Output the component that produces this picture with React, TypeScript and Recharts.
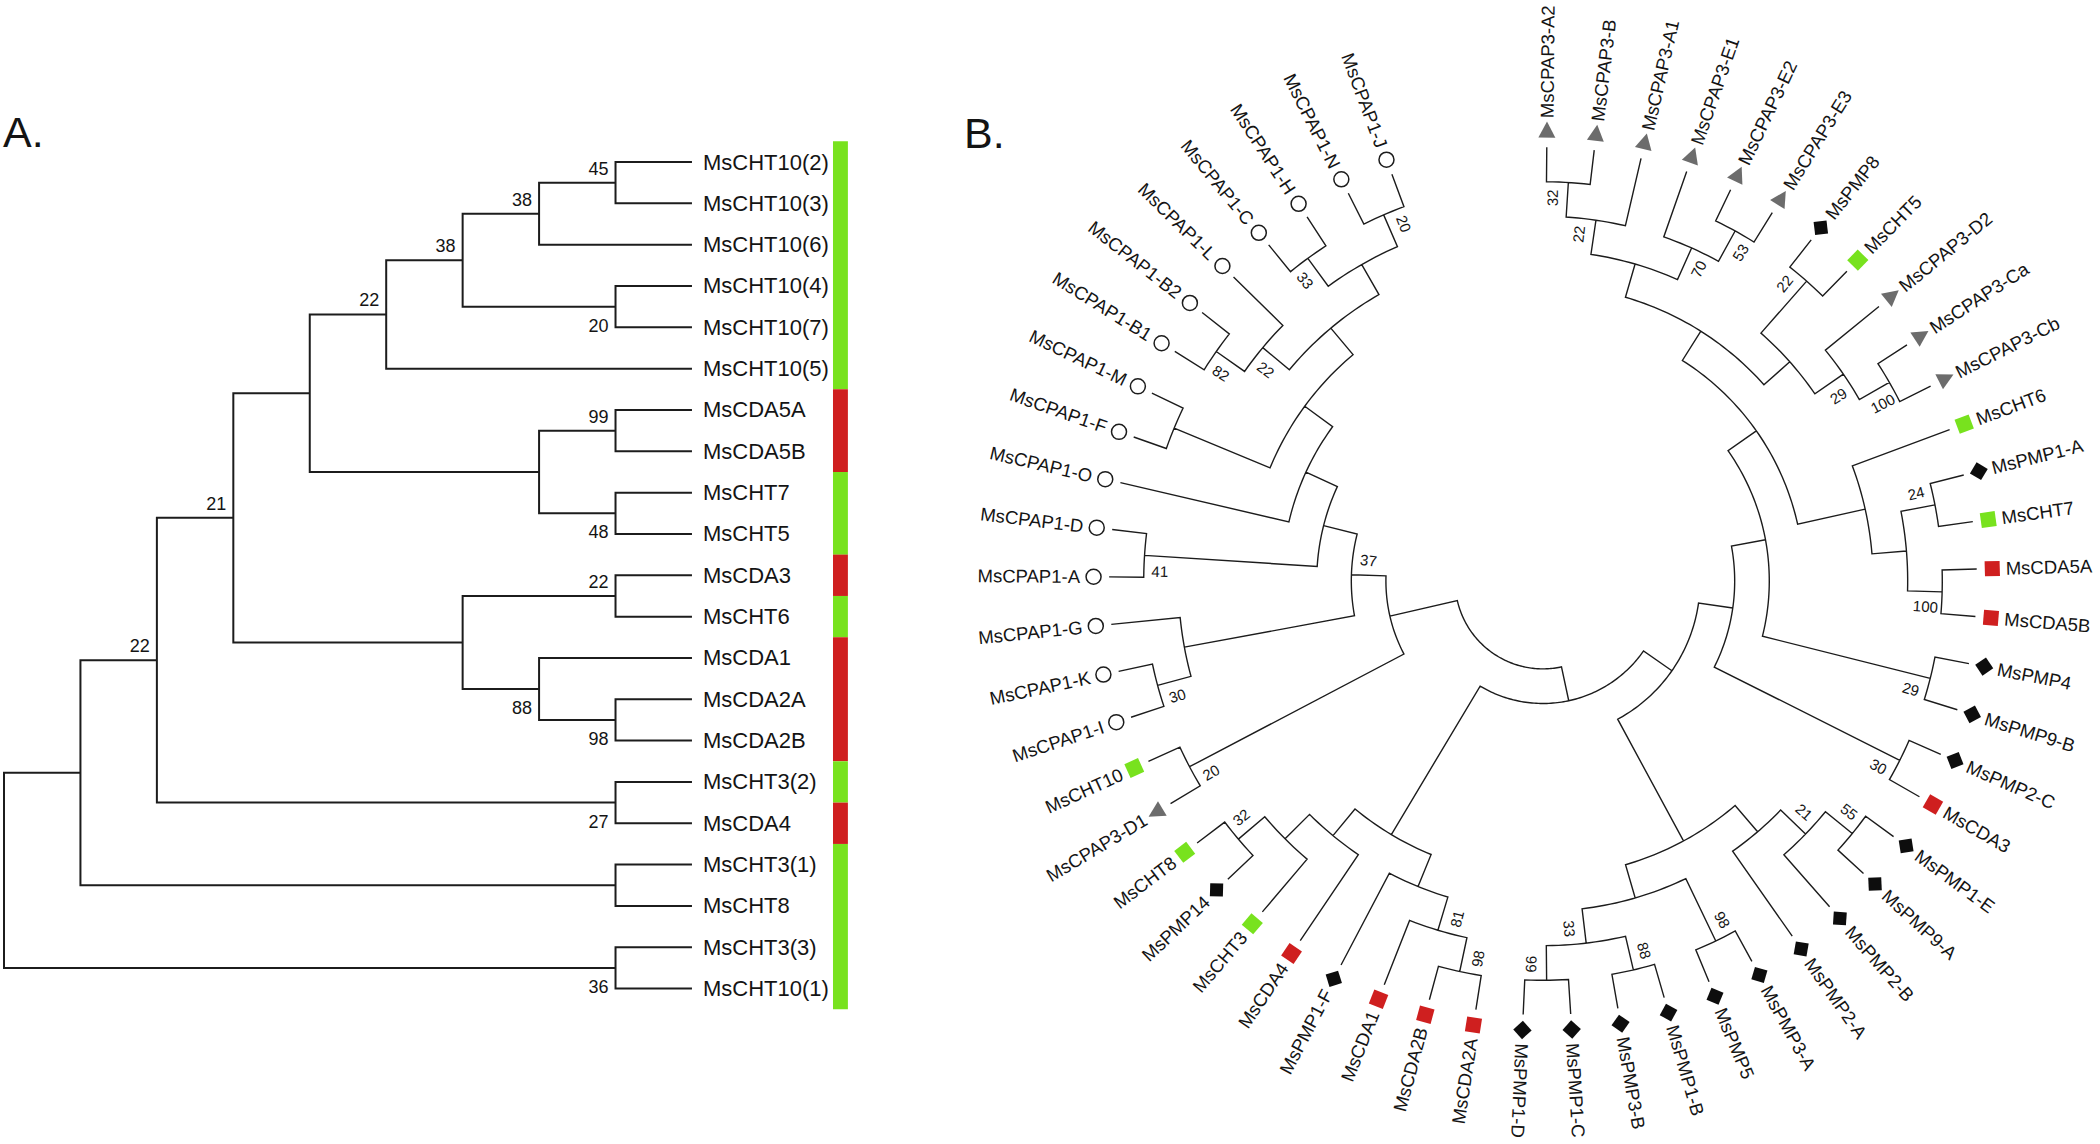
import React from 'react'
import { ComposedChart, XAxis, YAxis, Line, Scatter, ReferenceArea } from 'recharts'

const FONT = "'Liberation Sans', Arial, Helvetica, sans-serif"
const INK = '#1c1c1c'
const TEXT = '#141414'
const GREEN = '#78e21e'
const RED = '#cf1f1f'
const GRAY = '#6c6c6c'

type Clade = { id: string; kids: [string, string]; support?: number }
type Pt = { x: number; y: number | null }

// ---------- Panel A: rectangular tree ----------
const leavesA = [
  'MsCHT10(2)', 'MsCHT10(3)', 'MsCHT10(6)', 'MsCHT10(4)', 'MsCHT10(7)', 'MsCHT10(5)',
  'MsCDA5A', 'MsCDA5B', 'MsCHT7', 'MsCHT5', 'MsCDA3', 'MsCHT6', 'MsCDA1', 'MsCDA2A',
  'MsCDA2B', 'MsCHT3(2)', 'MsCDA4', 'MsCHT3(1)', 'MsCHT8', 'MsCHT3(3)', 'MsCHT10(1)',
]

const cladesA: Clade[] = [
  { id: 'a45', kids: ['MsCHT10(2)', 'MsCHT10(3)'], support: 45 },
  { id: 'a38a', kids: ['a45', 'MsCHT10(6)'], support: 38 },
  { id: 'a20', kids: ['MsCHT10(4)', 'MsCHT10(7)'], support: 20 },
  { id: 'a38b', kids: ['a38a', 'a20'], support: 38 },
  { id: 'a22a', kids: ['a38b', 'MsCHT10(5)'], support: 22 },
  { id: 'a99', kids: ['MsCDA5A', 'MsCDA5B'], support: 99 },
  { id: 'a48', kids: ['MsCHT7', 'MsCHT5'], support: 48 },
  { id: 'a7', kids: ['a99', 'a48'] },
  { id: 'a5', kids: ['a22a', 'a7'] },
  { id: 'a22b', kids: ['MsCDA3', 'MsCHT6'], support: 22 },
  { id: 'a98', kids: ['MsCDA2A', 'MsCDA2B'], support: 98 },
  { id: 'a88', kids: ['MsCDA1', 'a98'], support: 88 },
  { id: 'a6', kids: ['a22b', 'a88'] },
  { id: 'a21', kids: ['a5', 'a6'], support: 21 },
  { id: 'a27', kids: ['MsCHT3(2)', 'MsCDA4'], support: 27 },
  { id: 'a22c', kids: ['a21', 'a27'], support: 22 },
  { id: 'a8', kids: ['MsCHT3(1)', 'MsCHT8'] },
  { id: 'a1', kids: ['a22c', 'a8'] },
  { id: 'a36', kids: ['MsCHT3(3)', 'MsCHT10(1)'], support: 36 },
  { id: 'aRoot', kids: ['a1', 'a36'] },
]
// support values printed under the branch instead of above it
const belowA = ['a20', 'a48', 'a98', 'a88', 'a27', 'a36']

// ---------- Panel B: circular tree ----------
const leavesB = [
  'MsCPAP3-A2', 'MsCPAP3-B', 'MsCPAP3-A1', 'MsCPAP3-E1', 'MsCPAP3-E2', 'MsCPAP3-E3',
  'MsPMP8', 'MsCHT5', 'MsCPAP3-D2', 'MsCPAP3-Ca', 'MsCPAP3-Cb', 'MsCHT6',
  'MsPMP1-A', 'MsCHT7', 'MsCDA5A', 'MsCDA5B', 'MsPMP4', 'MsPMP9-B', 'MsPMP2-C', 'MsCDA3',
  'MsPMP1-E', 'MsPMP9-A', 'MsPMP2-B', 'MsPMP2-A', 'MsPMP3-A', 'MsPMP5', 'MsPMP1-B', 'MsPMP3-B',
  'MsPMP1-C', 'MsPMP1-D', 'MsCDA2A', 'MsCDA2B', 'MsCDA1', 'MsPMP1-F', 'MsCDA4', 'MsCHT3',
  'MsPMP14', 'MsCHT8', 'MsCPAP3-D1', 'MsCHT10', 'MsCPAP1-I', 'MsCPAP1-K', 'MsCPAP1-G',
  'MsCPAP1-A', 'MsCPAP1-D', 'MsCPAP1-O', 'MsCPAP1-F', 'MsCPAP1-M', 'MsCPAP1-B1', 'MsCPAP1-B2',
  'MsCPAP1-L', 'MsCPAP1-C', 'MsCPAP1-H', 'MsCPAP1-N', 'MsCPAP1-J',
]

const cladesB: Clade[] = [
  { id: 'b32', kids: ['MsCPAP3-A2', 'MsCPAP3-B'], support: 32 },
  { id: 'b22a', kids: ['b32', 'MsCPAP3-A1'], support: 22 },
  { id: 'b53', kids: ['MsCPAP3-E2', 'MsCPAP3-E3'], support: 53 },
  { id: 'b70', kids: ['MsCPAP3-E1', 'b53'], support: 70 },
  { id: 'bAE', kids: ['b22a', 'b70'] },
  { id: 'b22p', kids: ['MsPMP8', 'MsCHT5'], support: 22 },
  { id: 'b100c', kids: ['MsCPAP3-Ca', 'MsCPAP3-Cb'], support: 100 },
  { id: 'b29c', kids: ['MsCPAP3-D2', 'b100c'], support: 29 },
  { id: 'bP', kids: ['b22p', 'b29c'] },
  { id: 'bQ', kids: ['bAE', 'bP'] },
  { id: 'b24', kids: ['MsPMP1-A', 'MsCHT7'], support: 24 },
  { id: 'b100d', kids: ['MsCDA5A', 'MsCDA5B'], support: 100 },
  { id: 'bT', kids: ['b24', 'b100d'] },
  { id: 'bS', kids: ['MsCHT6', 'bT'] },
  { id: 'bR', kids: ['bQ', 'bS'] },
  { id: 'b29p', kids: ['MsPMP4', 'MsPMP9-B'], support: 29 },
  { id: 'bU', kids: ['bR', 'b29p'] },
  { id: 'b30p', kids: ['MsPMP2-C', 'MsCDA3'], support: 30 },
  { id: 'bX', kids: ['bU', 'b30p'] },
  { id: 'b55', kids: ['MsPMP1-E', 'MsPMP9-A'], support: 55 },
  { id: 'b21', kids: ['b55', 'MsPMP2-B'], support: 21 },
  { id: 'bA4', kids: ['b21', 'MsPMP2-A'] },
  { id: 'b98p', kids: ['MsPMP3-A', 'MsPMP5'], support: 98 },
  { id: 'b88', kids: ['MsPMP1-B', 'MsPMP3-B'], support: 88 },
  { id: 'b99', kids: ['MsPMP1-C', 'MsPMP1-D'], support: 99 },
  { id: 'b33', kids: ['b88', 'b99'], support: 33 },
  { id: 'bB6', kids: ['b98p', 'b33'] },
  { id: 'bPMP', kids: ['bA4', 'bB6'] },
  { id: 'bY', kids: ['bX', 'bPMP'] },
  { id: 'b98c', kids: ['MsCDA2A', 'MsCDA2B'], support: 98 },
  { id: 'b81', kids: ['b98c', 'MsCDA1'], support: 81 },
  { id: 'bF', kids: ['b81', 'MsPMP1-F'] },
  { id: 'b32c', kids: ['MsPMP14', 'MsCHT8'], support: 32 },
  { id: 'bC3', kids: ['MsCHT3', 'b32c'] },
  { id: 'bK', kids: ['MsCDA4', 'bC3'] },
  { id: 'bN', kids: ['bF', 'bK'] },
  { id: 'bB', kids: ['bY', 'bN'] },
  { id: 'b20', kids: ['MsCPAP3-D1', 'MsCHT10'], support: 20 },
  { id: 'b30k', kids: ['MsCPAP1-I', 'MsCPAP1-K'], support: 30 },
  { id: 'bG', kids: ['b30k', 'MsCPAP1-G'] },
  { id: 'b41', kids: ['MsCPAP1-A', 'MsCPAP1-D'], support: 41 },
  { id: 'bMF', kids: ['MsCPAP1-F', 'MsCPAP1-M'] },
  { id: 'b82', kids: ['MsCPAP1-B1', 'MsCPAP1-B2'], support: 82 },
  { id: 'b22L', kids: ['b82', 'MsCPAP1-L'], support: 22 },
  { id: 'b33c', kids: ['MsCPAP1-C', 'MsCPAP1-H'], support: 33 },
  { id: 'b20n', kids: ['MsCPAP1-N', 'MsCPAP1-J'], support: 20 },
  { id: 'bCJ', kids: ['b33c', 'b20n'] },
  { id: 'bBJ', kids: ['b22L', 'bCJ'] },
  { id: 'bFJ', kids: ['bMF', 'bBJ'] },
  { id: 'bO', kids: ['MsCPAP1-O', 'bFJ'] },
  { id: 'bAJ', kids: ['b41', 'bO'] },
  { id: 'b37', kids: ['bG', 'bAJ'], support: 37 },
  { id: 'bW', kids: ['b20', 'b37'] },
  { id: 'bRoot', kids: ['bB', 'bW'] },
]
// support values printed on the clockwise side of the stem
const afterB = ['b53', 'b70', 'b100c', 'b29c', 'b100d', 'b29p', 'b30p', 'b99', 'b33', 'b32c', 'b20n', 'b37']

// ---------- layout ----------
const H = 1144
const A_W = 860
const A_X0 = 4
const A_UX = 76.44
const A_Y0 = 162
const A_UY = 41.33
const A_DEPTH = 9
const BAR_X0 = 10.845
const BAR_X1 = 11.04

const B_LEFT = 960
const B_W = 1140
const B_CX = 583
const B_CY = 581
const B_U = 34.6
const RHO_TIP = 12.54
const THETA0 = -89.5
const THETA_STEP = 6.28

function buildTree(leaves: string[], clades: Clade[], leafPos: (i: number) => number) {
  const info = new Map<string, { pos: number; h: number }>()
  leaves.forEach((n, i) => info.set(n, { pos: leafPos(i), h: 0 }))
  clades.forEach((c) => {
    const a = info.get(c.kids[0])!
    const b = info.get(c.kids[1])!
    info.set(c.id, { pos: (a.pos + b.pos) / 2, h: Math.max(a.h, b.h) + 1 })
  })
  return info
}

const rad = (d: number) => (d * Math.PI) / 180
const polar = (rho: number, deg: number) => ({ x: rho * Math.cos(rad(deg)), y: rho * Math.sin(rad(deg)) })

// panel A geometry in (depth, leaf row) units
const infoA = buildTree(leavesA, cladesA, (i) => i)
const segA: Pt[] = []
cladesA.forEach((c) => {
  const n = infoA.get(c.id)!
  const xc = A_DEPTH - n.h
  const [k0, k1] = c.kids.map((k) => infoA.get(k)!)
  segA.push(
    { x: A_DEPTH - k0.h, y: k0.pos },
    { x: xc, y: k0.pos },
    { x: xc, y: k1.pos },
    { x: A_DEPTH - k1.h, y: k1.pos },
    { x: A_DEPTH - k1.h, y: null },
  )
})
const leafPtsA = leavesA.map((name, i) => ({ x: A_DEPTH, y: i, name }))
const supPtsA = cladesA
  .filter((c) => c.support != null)
  .map((c) => {
    const n = infoA.get(c.id)!
    return { x: A_DEPTH - n.h, y: n.pos, label: c.support, below: belowA.includes(c.id) }
  })
const barRuns: { from: number; to: number; color: string }[] = []
leavesA.forEach((name, i) => {
  const color = name.includes('CDA') ? RED : GREEN
  const last = barRuns[barRuns.length - 1]
  if (last && last.color === color) last.to = i
  else barRuns.push({ from: i, to: i, color })
})

// panel B geometry in polar (level, degrees) converted to cartesian level units
const infoB = buildTree(leavesB, cladesB, (i) => THETA0 + THETA_STEP * i)
const segB: Pt[] = []
cladesB.forEach((c) => {
  const n = infoB.get(c.id)!
  const rho = RHO_TIP - n.h
  const [k0, k1] = c.kids.map((k) => infoB.get(k)!)
  const steps = Math.max(2, Math.ceil(k1.pos - k0.pos))
  const pts: Pt[] = [polar(RHO_TIP - k0.h, k0.pos)]
  for (let s = 0; s <= steps; s++) pts.push(polar(rho, k0.pos + ((k1.pos - k0.pos) * s) / steps))
  pts.push(polar(RHO_TIP - k1.h, k1.pos))
  segB.push(...pts, { x: pts[pts.length - 1].x, y: null })
})
const kindOf = (name: string) =>
  name.startsWith('MsCPAP1') ? 'cpap1' : name.startsWith('MsCPAP3') ? 'cpap3' : name.startsWith('MsCHT') ? 'cht' : name.startsWith('MsCDA') ? 'cda' : 'pmp'
const leafMarkB = leavesB.map((name, i) => {
  const a = THETA0 + THETA_STEP * i
  return { ...polar(RHO_TIP + 0.45, a), angle: a, kind: kindOf(name) }
})
const leafTextB = leavesB.map((name, i) => {
  const a = THETA0 + THETA_STEP * i
  return { ...polar(RHO_TIP + 0.84, a), angle: a, name }
})
const supPtsB = cladesB
  .filter((c) => c.support != null)
  .map((c) => {
    const n = infoB.get(c.id)!
    const rho = RHO_TIP - n.h - 16 / B_U
    const side = afterB.includes(c.id) ? 1 : -1
    const a = n.pos + (side * (15 / B_U / rho) * 180) / Math.PI
    return { ...polar(rho, a), angle: a, label: c.support }
  })

const flipped = (a: number) => a > 96 && a < 270
const textRot = (a: number) => (flipped(a) ? a - 180 : a)

// ---------- shapes ----------
const LeafLabelA = (p: any) => (
  <text x={p.cx + 11} y={p.cy} dominantBaseline="central" fontSize={22} fontFamily={FONT} fill={TEXT}>
    {p.payload.name}
  </text>
)

const SupportA = (p: any) => (
  <text
    x={p.cx - 7}
    y={p.cy + (p.payload.below ? 19 : -14)}
    textAnchor="end"
    dominantBaseline="central"
    fontSize={18}
    fontFamily={FONT}
    fill={TEXT}
  >
    {p.payload.label}
  </text>
)

const MarkerB = (p: any) => {
  const { cx, cy } = p
  const { angle, kind } = p.payload
  if (kind === 'cpap1') return <circle cx={cx} cy={cy} r={7.5} fill="#fff" stroke={INK} strokeWidth={1.5} />
  if (kind === 'cpap3')
    return <polygon points="10,0 -6,-8.5 -6,8.5" transform={`translate(${cx},${cy}) rotate(${angle})`} fill={GRAY} />
  if (kind === 'pmp')
    return <rect x={-6.5} y={-6.5} width={13} height={13} transform={`translate(${cx},${cy}) rotate(${angle + 45})`} fill="#0d0d0d" />
  return (
    <rect
      x={-7.5}
      y={-7.5}
      width={15}
      height={15}
      transform={`translate(${cx},${cy}) rotate(${angle})`}
      fill={kind === 'cht' ? GREEN : RED}
    />
  )
}

const LeafLabelB = (p: any) => {
  const { cx, cy } = p
  const a = p.payload.angle
  return (
    <text
      x={cx}
      y={cy}
      transform={`rotate(${textRot(a)} ${cx} ${cy})`}
      textAnchor={flipped(a) ? 'end' : 'start'}
      dominantBaseline="central"
      fontSize={18.5}
      fontFamily={FONT}
      fill={TEXT}
    >
      {p.payload.name}
    </text>
  )
}

const SupportB = (p: any) => {
  const { cx, cy } = p
  const a = p.payload.angle
  return (
    <text
      x={cx}
      y={cy}
      transform={`rotate(${textRot(a)} ${cx} ${cy})`}
      textAnchor="middle"
      dominantBaseline="central"
      fontSize={15}
      fontFamily={FONT}
      fill={TEXT}
    >
      {p.payload.label}
    </text>
  )
}

const noMargin = { top: 0, right: 0, bottom: 0, left: 0 }

export default function App() {
  return (
    <div
      style={{
        position: 'absolute',
        left: 0,
        top: 0,
        width: 2100,
        height: H,
        background: '#fff',
        overflow: 'hidden',
        fontFamily: FONT,
      }}
    >
      <div style={{ position: 'absolute', left: 3, top: 111, fontSize: 43, lineHeight: '43px', color: TEXT }}>A.</div>
      <div style={{ position: 'absolute', left: 964, top: 112, fontSize: 43, lineHeight: '43px', color: TEXT }}>B.</div>

      <div style={{ position: 'absolute', left: 0, top: 0 }}>
        <ComposedChart width={A_W} height={H} margin={noMargin}>
          <XAxis type="number" dataKey="x" domain={[-A_X0 / A_UX, (A_W - A_X0) / A_UX]} hide allowDataOverflow />
          <YAxis type="number" dataKey="y" domain={[-A_Y0 / A_UY, (H - A_Y0) / A_UY]} reversed hide allowDataOverflow />
          {barRuns.map((r) => (
            <ReferenceArea
              key={r.from}
              x1={BAR_X0}
              x2={BAR_X1}
              y1={r.from - 0.5}
              y2={r.to + 0.5}
              fill={r.color}
              fillOpacity={1}
              stroke="none"
            />
          ))}
          <Line
            data={segA}
            dataKey="y"
            type="linear"
            stroke={INK}
            strokeWidth={2}
            dot={false}
            activeDot={false}
            connectNulls={false}
            isAnimationActive={false}
          />
          <Scatter data={leafPtsA} dataKey="y" shape={LeafLabelA} isAnimationActive={false} />
          <Scatter data={supPtsA} dataKey="y" shape={SupportA} isAnimationActive={false} />
        </ComposedChart>
      </div>

      <div style={{ position: 'absolute', left: B_LEFT, top: 0 }}>
        <ComposedChart width={B_W} height={H} margin={noMargin}>
          <XAxis type="number" dataKey="x" domain={[-B_CX / B_U, (B_W - B_CX) / B_U]} hide allowDataOverflow />
          <YAxis type="number" dataKey="y" domain={[-B_CY / B_U, (H - B_CY) / B_U]} reversed hide allowDataOverflow />
          <Line
            data={segB}
            dataKey="y"
            type="linear"
            stroke={INK}
            strokeWidth={1.4}
            dot={false}
            activeDot={false}
            connectNulls={false}
            isAnimationActive={false}
          />
          <Scatter data={leafMarkB} dataKey="y" shape={MarkerB} isAnimationActive={false} />
          <Scatter data={leafTextB} dataKey="y" shape={LeafLabelB} isAnimationActive={false} />
          <Scatter data={supPtsB} dataKey="y" shape={SupportB} isAnimationActive={false} />
        </ComposedChart>
      </div>
    </div>
  )
}
